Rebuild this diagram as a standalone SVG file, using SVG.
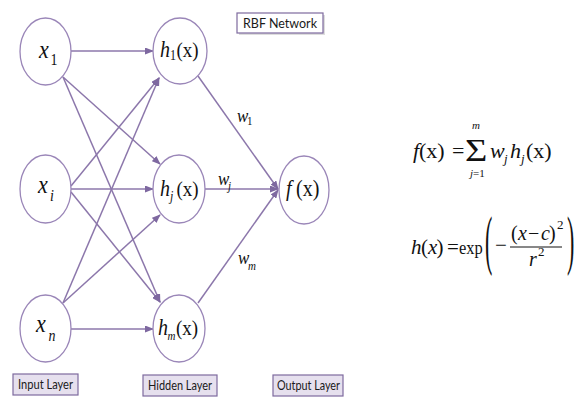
<svg xmlns="http://www.w3.org/2000/svg" width="579" height="400" viewBox="0 0 579 400">
<style>
.node{fill:#fff;stroke:#9A86B8;stroke-width:1.3}
.edge{stroke:#8C77AB;stroke-width:1.5;fill:none}
.m{font-family:"Liberation Serif","Times New Roman",serif;fill:#111}
.i{font-style:italic}
.box{fill:#E6E0EE;stroke:#7E6A9E;stroke-width:1.2}
.lbl{font-family:Lato,"Liberation Sans",sans-serif;font-size:12.5px;fill:#1a1a1a}
</style>
<defs>
<marker id="ah" markerWidth="9" markerHeight="7" refX="8" refY="3.5" orient="auto" markerUnits="userSpaceOnUse">
<path d="M0,0 L9,3.5 L0,7 z" fill="#7E68A0"/>
</marker>
</defs>
<rect width="579" height="400" fill="#fff"/>
<g id="connectors">
<line class="edge" x1="71" y1="51" x2="153" y2="51" marker-end="url(#ah)"/>
<line class="edge" x1="63" y1="77" x2="160" y2="164" marker-end="url(#ah)"/>
<line class="edge" x1="63" y1="77" x2="160" y2="302" marker-end="url(#ah)"/>
<line class="edge" x1="71" y1="186" x2="159" y2="78" marker-end="url(#ah)"/>
<line class="edge" x1="71" y1="189" x2="153" y2="189" marker-end="url(#ah)"/>
<line class="edge" x1="71" y1="192" x2="160" y2="302" marker-end="url(#ah)"/>
<line class="edge" x1="63" y1="303" x2="159" y2="78" marker-end="url(#ah)"/>
<line class="edge" x1="63" y1="303" x2="160" y2="215" marker-end="url(#ah)"/>
<line class="edge" x1="71" y1="329" x2="153" y2="329" marker-end="url(#ah)"/>
<line class="edge" x1="198" y1="76" x2="278" y2="189" marker-end="url(#ah)"/>
<line class="edge" x1="205" y1="189" x2="278" y2="189" marker-end="url(#ah)"/>
<line class="edge" x1="198" y1="303" x2="278" y2="190" marker-end="url(#ah)"/>
</g>
<g id="w-labels" class="m">
<text transform="translate(237,122) scale(1,1.15)"><tspan class="i" font-size="17">w</tspan><tspan x="10" y="3" font-size="11">1</tspan></text>
<text transform="translate(218,185) scale(1,1.15)"><tspan class="i" font-size="17">w</tspan><tspan class="i" x="10" y="4" font-size="11">j</tspan></text>
<text transform="translate(238,264) scale(1,1.15)"><tspan class="i" font-size="17">w</tspan><tspan class="i" x="10" y="5" font-size="11">m</tspan></text>
</g>
<g id="x1">
<ellipse class="node" cx="45.5" cy="51.5" rx="25.5" ry="33.5"/>
<text class="m" transform="translate(39,58) scale(1,1.15)"><tspan class="i" font-size="22">x</tspan><tspan x="11.5" y="6" font-size="14">1</tspan></text>
</g>
<g id="xi">
<ellipse class="node" cx="45.5" cy="189" rx="25.5" ry="34"/>
<text class="m" transform="translate(38,193) scale(1,1.15)"><tspan class="i" font-size="22">x</tspan><tspan class="i" x="12" y="7" font-size="14">i</tspan></text>
</g>
<g id="xn">
<ellipse class="node" cx="45.5" cy="328.5" rx="25.5" ry="33.5"/>
<text class="m" transform="translate(36,332) scale(1,1.15)"><tspan class="i" font-size="22">x</tspan><tspan class="i" x="12.5" y="8" font-size="14">n</tspan></text>
</g>
<g id="h1">
<ellipse class="node" cx="180" cy="51" rx="27" ry="33"/>
<text class="m" transform="translate(160,57) scale(1,1.15)"><tspan class="i" font-size="20">h</tspan><tspan x="10" y="3" font-size="12">1</tspan><tspan x="16.5" y="0" font-size="19">(x)</tspan></text>
</g>
<g id="hj">
<ellipse class="node" cx="179" cy="189" rx="26" ry="34"/>
<text class="m" transform="translate(160,196) scale(1,1.15)"><tspan class="i" font-size="20">h</tspan><tspan class="i" x="10" y="4" font-size="12">j</tspan><tspan x="16.5" y="0" font-size="19">(x)</tspan></text>
</g>
<g id="hm">
<ellipse class="node" cx="179" cy="328.5" rx="26" ry="33.5"/>
<text class="m" transform="translate(158,335) scale(1,1.15)"><tspan class="i" font-size="20">h</tspan><tspan class="i" x="9.5" y="4" font-size="11">m</tspan><tspan x="18" y="0" font-size="19">(x)</tspan></text>
</g>
<g id="fx">
<ellipse class="node" cx="304" cy="190" rx="25" ry="34"/>
<text class="m" transform="translate(286,196) scale(1,1.15)"><tspan class="i" font-size="20">f</tspan><tspan x="10" y="0" font-size="20">(x)</tspan></text>
</g>
<g id="title">
<rect x="239" y="15" width="86" height="20" fill="#bbb" opacity="0.5"/>
<rect x="237" y="13" width="86" height="20" fill="#fff" stroke="#7E6A9E" stroke-width="1.2"/>
<text class="lbl" x="243" y="28" font-size="13px" textLength="74" lengthAdjust="spacingAndGlyphs">RBF Network</text>
</g>
<g id="input-layer">
<rect class="box" x="13" y="374" width="65" height="21"/>
<text class="lbl" x="18" y="389" textLength="55" lengthAdjust="spacingAndGlyphs">Input Layer</text>
</g>
<g id="hidden-layer">
<rect class="box" x="143" y="375" width="74" height="21"/>
<text class="lbl" x="148" y="390" textLength="64" lengthAdjust="spacingAndGlyphs">Hidden Layer</text>
</g>
<g id="output-layer">
<rect class="box" x="273" y="375" width="70" height="21"/>
<text class="lbl" x="277" y="390" textLength="63" lengthAdjust="spacingAndGlyphs">Output Layer</text>
</g>
<g id="formula-f" class="m">
<text y="158" font-size="22"><tspan class="i" x="413">f</tspan><tspan x="419">(x)</tspan><tspan x="452">=</tspan></text>
<text transform="translate(465,161) scale(1.2,1)" font-size="32">Σ</text>
<text y="158" font-size="22"><tspan class="i" x="490">w</tspan><tspan class="i" x="504" y="163" font-size="13">j</tspan><tspan class="i" x="510" y="158">h</tspan><tspan class="i" x="521" y="163" font-size="13">j</tspan><tspan x="526" y="158">(x)</tspan></text>
<text class="i" x="472" y="129" font-size="11">m</text>
<text x="470" y="177" font-size="11"><tspan class="i">j</tspan>=1</text>
</g>
<g id="formula-h" class="m">
<text y="254" font-size="21"><tspan class="i" x="411">h</tspan><tspan x="421">(</tspan><tspan class="i" x="428">x</tspan><tspan x="436.5">)</tspan><tspan x="447">=</tspan></text>
<text transform="translate(459,254) scale(1,1.2)" font-size="16.5">exp</text>
<text transform="translate(485,262) scale(1,3)" font-size="22">(</text>
<text transform="translate(567,262) scale(1,3)" font-size="22">)</text>
<text x="495" y="252" font-size="21">−</text>
<text y="240" font-size="20"><tspan x="511">(</tspan><tspan class="i" x="518">x</tspan><tspan x="528">−</tspan><tspan class="i" x="541">c</tspan><tspan x="549">)</tspan><tspan x="557" y="229" font-size="13">2</tspan></text>
<line x1="510" y1="247" x2="562" y2="247" stroke="#111" stroke-width="1"/>
<text y="266" font-size="20"><tspan class="i" x="529">r</tspan><tspan x="538" y="256" font-size="13">2</tspan></text>
</g>
</svg>
